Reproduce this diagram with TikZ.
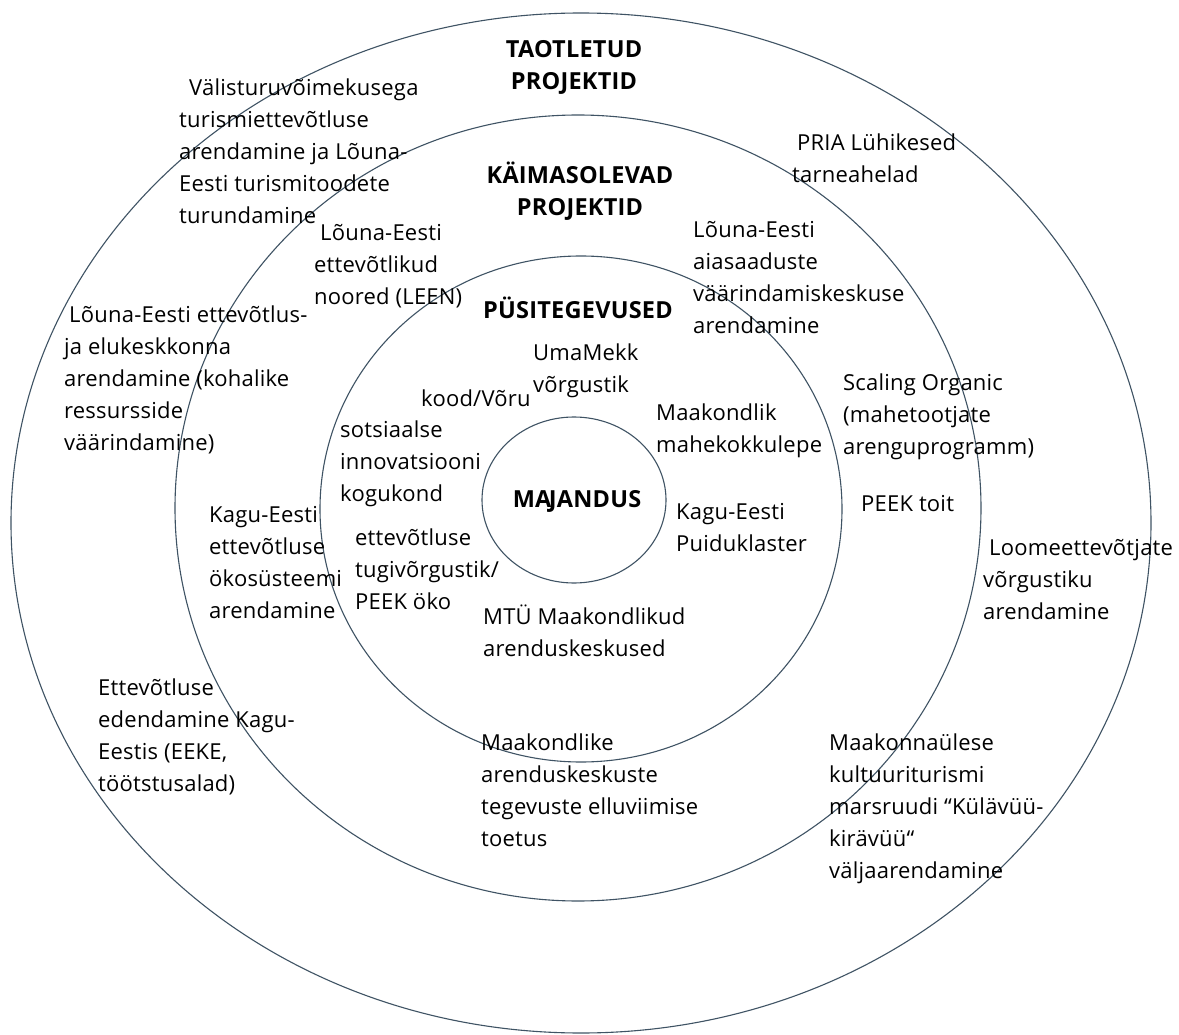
\documentclass[tikz,border=0pt]{standalone}
\usepackage{fontspec}
\setmainfont{Open Sans}[LetterSpace=1]
\usetikzlibrary{shapes.geometric}
\definecolor{ringcol}{HTML}{3F5364}
\begin{document}
\begin{tikzpicture}[x=1pt,y=-1pt,
  ring/.style={draw=ringcol, line width=1.1pt, ellipse, inner sep=0pt},
  lbl/.style={anchor=north west, align=left, inner sep=0pt, yshift=22.4pt,
              font=\fontsize{22}{32}\selectfont, text=black},
  ttl/.style={anchor=north, align=center, inner sep=0pt, yshift=22.4pt,
              font=\fontsize{23.5}{32}\selectfont\bfseries, text=black}]
\useasboundingbox[fill=white] (0,0) rectangle (1179,1035);
% rings
\node[ring, minimum width=1140pt, minimum height=1020pt] (outer) at (581,523) {};
\node[ring, minimum width=806pt, minimum height=786pt] (second) at (578,508) {};
\node[ring, minimum width=522pt, minimum height=506pt] (third) at (581,509) {};
\node[ring, minimum width=184pt, minimum height=166pt] (inner) at (574,500) {};
% titles
\node[ttl] (taot) at (574,57) {\strut TAOTLETUD\\PROJEKTID};
\node[ttl] (kaim) at (580,183) {\strut KÄIMASOLEVAD\\PROJEKTID};
\node[ttl] (pysi) at (578,318) {\strut PÜSITEGEVUSED};
\node[ttl] (maj) at (577,507) {\strut MA\kern-2.5pt JANDUS};
% labels
\node[lbl] (valis) at (179,95) {\strut\hspace*{10pt}Välisturuvõimekusega\\turismiettevõtluse\\arendamine ja Lõuna-\\Eesti turismitoodete\\turundamine};
\node[lbl] (leen) at (314,240) {\strut\hspace*{6pt}Lõuna-Eesti\\ettevõtlikud\\noored (LEEN)};
\node[lbl] (pria) at (792,150) {\strut\hspace*{5pt}PRIA Lühikesed\\tarneahelad};
\node[lbl] (aias) at (693,237) {\strut Lõuna-Eesti\\aiasaaduste\\väärindamiskeskuse\\arendamine};
\node[lbl] (scal) at (843,390) {\strut Scaling Organic\\(mahetootjate\\arenguprogramm)};
\node[lbl] (mahe) at (656,420) {\strut Maakondlik\\mahekokkulepe};
\node[lbl] (elu) at (64,322) {\strut\hspace*{5pt}Lõuna-Eesti ettevõtlus-\\ja elukeskkonna\\arendamine (kohalike\\ressursside\\väärindamine)};
\node[lbl] (uma) at (533,360) {\strut UmaMekk\\võrgustik};
\node[lbl] (kood) at (421,406) {\strut kood/Võru};
\node[lbl] (sots) at (340,437) {\strut sotsiaalse\\innovatsiooni\\kogukond};
\node[lbl] (kagu) at (209,522) {\strut Kagu-Eesti\\ettevõtluse\\ökosüsteemi\\arendamine};
\node[lbl] (tugi) at (355,545) {\strut ettevõtluse\\tugivõrgustik/\\PEEK öko};
\node[lbl] (puit) at (676,519) {\strut Kagu-Eesti\\Puiduklaster};
\node[lbl] (mtu) at (483,624) {\strut MTÜ Maakondlikud\\arenduskeskused};
\node[lbl] (peek) at (861,511) {\strut PEEK toit};
\node[lbl] (loome) at (983,555) {\strut\hspace*{6pt}Loomeettevõtjate\\võrgustiku\\arendamine};
\node[lbl] (eeke) at (98,695) {\strut Ettevõtluse\\edendamine Kagu-\\Eestis (EEKE,\\töötstusalad)};
\node[lbl] (toetus) at (481,750) {\strut Maakondlike\\arenduskeskuste\\tegevuste elluviimise\\toetus};
\node[lbl] (kult) at (829,750) {\strut Maakonnaülese\\kultuuriturismi\\marsruudi “Külävüü-\\kirävüü“\\väljaarendamine};
\end{tikzpicture}
\end{document}
